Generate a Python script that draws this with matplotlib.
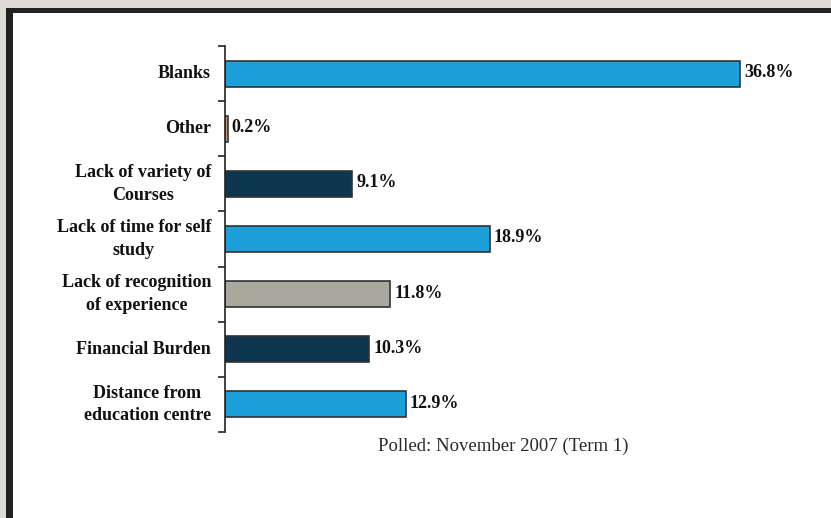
import matplotlib
matplotlib.use('agg')
import matplotlib.pyplot as plt
from matplotlib.patches import Rectangle

# survey results, top to bottom
categories = ['Blanks', 'Other', 'Lack of variety of\nCourses',
              'Lack of time for self\nstudy', 'Lack of recognition\nof experience',
              'Financial Burden', 'Distance from\neducation centre']
values = [36.8, 0.2, 9.1, 18.9, 11.8, 10.3, 12.9]
colors = ['#1d9fd9', '#c9a27c', '#0d3550', '#1d9fd9', '#a9a89c', '#0d3550', '#1d9fd9']
footnote = 'Polled: November 2007 (Term 1)'

W, H = 831, 518
fig = plt.figure(figsize=(W/100, H/100), dpi=100)
fig.patch.set_facecolor('#dddbd5')

# slide frame: dark border then white page
fig.add_artist(Rectangle((6/W, 0), 1, 1 - 8/H, transform=fig.transFigure,
                         facecolor='#222222', edgecolor='none', zorder=0))
fig.add_artist(Rectangle((13/W, 0), 1, 1 - 13/H, transform=fig.transFigure,
                         facecolor='white', edgecolor='none', zorder=0))

left, right = 225/W, 800/W
bottom, top = 1 - 432/H, 1 - 46/H
ax = fig.add_axes([left, bottom, right - left, top - bottom])
ax.set_facecolor('none')

n = len(values)
ypos = list(range(n))
ax.barh(ypos, values, height=0.47, color=colors, edgecolor='#333333', linewidth=1.2)
ax.set_ylim(n - 0.5, -0.5)
ax.set_xlim(0, (800 - 225) / 14.0)

font = 'Liberation Serif'
for y, v, c in zip(ypos, values, categories):
    ax.annotate('%.1f%%' % v, (v, y), xytext=(4, 1), textcoords='offset pixels',
                va='center', ha='left', fontsize=13, fontweight='bold',
                family=font, color='#111111')
    ax.annotate(c, (0, y), xytext=(-14, 0), textcoords='offset pixels',
                va='center', ha='right', multialignment='center',
                fontsize=13, fontweight='bold', family=font, color='#111111',
                linespacing=1.45)

# ticks on category boundaries
ax.set_yticks([i - 0.5 for i in range(n + 1)])
ax.set_yticklabels([])
ax.tick_params(axis='y', direction='out', length=5, width=1.2, color='#222222')
ax.set_xticks([])
for s in ['top', 'right', 'bottom']:
    ax.spines[s].set_visible(False)
ax.spines['left'].set_linewidth(1.2)
ax.spines['left'].set_color('#222222')

fig.text(503/W, 1 - 446/H, footnote, ha='center', va='center',
         fontsize=13.5, family=font, color='#2a2a2a')

fig.savefig('out.png', dpi=100)
